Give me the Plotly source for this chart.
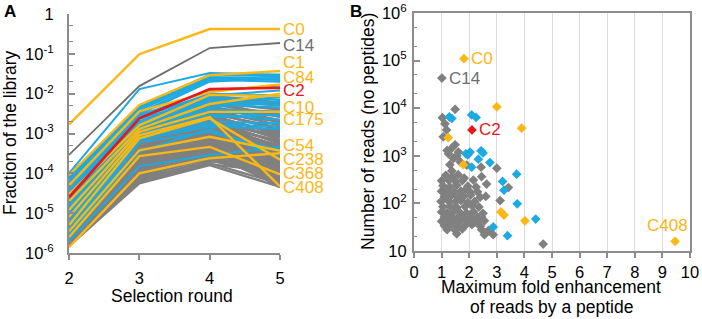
import numpy as np
import plotly.graph_objects as go

W, H = 702, 319
FONT = "Liberation Sans, Arial, Helvetica, sans-serif"
ORANGE = "#FBB714"
BLUE = "#1DAAE2"
GRAY = "#808080"
DGRAY = "#6D6E70"
RED = "#E8161E"

# ---------------- Panel A data ----------------
rounds = [2, 3, 4, 5]

gray_r2 = [9e-5, 7e-5, 5e-5, 4e-5, 3e-5, 2.5e-5, 2e-5, 1.6e-5, 1.3e-5, 1.1e-5, 9e-6, 8e-6, 7e-6, 6e-6, 5e-6,
           4.5e-6, 4e-6, 3.5e-6, 3e-6, 2.7e-6, 2.4e-6, 2.1e-6, 1.9e-6, 1.7e-6, 1.5e-6, 2e-6, 1.8e-6, 1.6e-6,
           1.5e-6, 6e-5, 3.5e-5, 2.2e-5, 1.5e-5, 1.2e-5, 1e-5, 8.5e-6, 6.5e-6, 5.5e-6, 4.2e-6, 3.2e-6, 2.8e-6,
           2.5e-6, 2.3e-6, 2.2e-6, 2e-6, 1.8e-6, 1.6e-6, 1.5e-6, 7.5e-5, 4.5e-5, 2.8e-5, 1.8e-5, 1.4e-5, 1e-5,
           7.5e-6, 5.2e-6, 3.8e-6, 2.6e-6, 2e-6, 1.7e-6, 1e-4, 8e-5,
           6e-6, 4.8e-6, 3.6e-6, 2.9e-6, 2.4e-6, 2.1e-6, 1.9e-6, 1.7e-6, 1.6e-6, 1.55e-6, 3.3e-6, 2.6e-6,
           9.5e-6, 7e-6, 5e-6, 4e-6, 3.1e-6, 2.3e-6]
gray_r3 = [1.5e-3, 1.3e-3, 1.2e-3, 1.1e-3, 1.0e-3, 9e-4, 8e-4, 7e-4, 6.5e-4, 6e-4, 5.5e-4, 5e-4, 4.6e-4, 4.2e-4,
           3.8e-4, 3.5e-4, 3.2e-4, 2.9e-4, 2.6e-4, 2.3e-4, 2e-4, 1.8e-4, 1.5e-4, 1.3e-4, 1.1e-4, 9e-5, 7.5e-5,
           6.5e-5, 5.6e-5, 1.4e-3, 1.15e-3, 8.5e-4, 7.5e-4, 6.2e-4, 5.2e-4, 4.8e-4, 4e-4, 3.6e-4, 3e-4, 2.7e-4,
           2.4e-4, 2.1e-4, 1.9e-4, 1.6e-4, 1.4e-4, 1.2e-4, 1e-4, 8e-5, 1.35e-3, 1.25e-3, 9.5e-4, 8e-4, 7e-4,
           5.8e-4, 4.4e-4, 3.4e-4, 2.8e-4, 2.2e-4, 1.7e-4, 1.4e-4, 2e-3, 1.8e-3,
           4.3e-4, 3.7e-4, 3.1e-4, 2.5e-4, 2e-4, 1.65e-4, 1.35e-4, 1.05e-4, 8.5e-5, 7e-5, 6e-5, 1.25e-4,
           6.8e-4, 5.4e-4, 4.5e-4, 3.3e-4, 2.6e-4, 1.9e-4]
gray_r4 = [7e-3, 6e-3, 5.5e-3, 4.5e-3, 4e-3, 3.5e-3, 3e-3, 2.6e-3, 2.3e-3, 2e-3, 1.8e-3, 1.6e-3, 1.4e-3, 1.25e-3,
           1.1e-3, 1e-3, 9e-4, 8e-4, 7e-4, 6e-4, 5.2e-4, 4.5e-4, 3.8e-4, 3.2e-4, 2.7e-4, 2.3e-4, 2e-4, 1.8e-4,
           1.6e-4, 6.5e-3, 5e-3, 3.2e-3, 2.8e-3, 2.1e-3, 1.9e-3, 1.5e-3, 1.3e-3, 1.15e-3, 9.5e-4, 8.5e-4, 7.5e-4,
           6.5e-4, 5.5e-4, 4.8e-4, 4.2e-4, 3.5e-4, 3e-4, 2.5e-4, 4.2e-3, 3.8e-3, 3.3e-3, 2.4e-3, 2.2e-3, 1.7e-3,
           1.35e-3, 1.05e-3, 8.8e-4, 6.8e-4, 5e-4, 4e-4, 9e-3, 8e-3,
           1.2e-3, 1.0e-3, 8.2e-4, 6.6e-4, 5.4e-4, 4.4e-4, 3.6e-4, 2.9e-4, 2.4e-4, 2.1e-4, 1.7e-4, 3.3e-4,
           1.9e-3, 1.55e-3, 1.25e-3, 9.2e-4, 7.2e-4, 5.8e-4]
gray_r5 = [5e-3, 4e-3, 3e-3, 2.2e-3, 1.6e-3, 1.2e-3, 9e-4, 7e-4, 5.5e-4, 4.5e-4, 3.5e-4, 2.8e-4, 2.2e-4, 1.8e-4,
           1.5e-4, 1.2e-4, 1e-4, 8.5e-5, 7e-5, 6e-5, 5e-5, 4.5e-5, 6.5e-5, 8e-5, 1e-4, 1.3e-4, 1.6e-4, 5.5e-5,
           4.6e-5, 2.6e-3, 1.9e-3, 1.4e-3, 1e-3, 8e-4, 6e-4, 5e-4, 4e-4, 3e-4, 2.5e-4, 2e-4, 1.7e-4, 1.4e-4,
           1.1e-4, 9e-5, 7.5e-5, 6e-5, 5e-5, 9e-5, 3.5e-3, 2.8e-3, 2e-3, 1.1e-3, 8.5e-4, 6.5e-4, 4.5e-4, 3.2e-4,
           2.3e-4, 1.9e-4, 1.5e-4, 1.2e-4, 6e-3, 5.5e-3,
           1.4e-4, 1.15e-4, 9.5e-5, 7.8e-5, 6.3e-5, 5.3e-5, 4.8e-5, 5.8e-5, 7.2e-5, 8.8e-5, 1.05e-4, 1.25e-4,
           4.2e-4, 3.6e-4, 2.7e-4, 2.1e-4, 1.75e-4, 1.35e-4]

blue_r2 = [1e-4, 8e-5, 6e-5, 5e-5, 4e-5, 3e-5, 2.2e-5, 1.8e-5, 1.5e-5, 1.2e-5, 1e-5, 8e-6, 6e-6, 5e-6, 4e-6,
           3.5e-6, 3e-6, 2.5e-6, 2e-6, 7e-5, 3.5e-5, 2.5e-5, 1.3e-5, 9e-6, 4.5e-6, 2.8e-6]
blue_r3 = [1.3e-2, 5e-3, 4.2e-3, 3.8e-3, 3.3e-3, 3e-3, 2.6e-3, 2.3e-3, 2e-3, 1.8e-3, 1.6e-3, 1.4e-3, 1.2e-3,
           1.1e-3, 9e-4, 8e-4, 7e-4, 6e-4, 1.5e-4, 4.6e-3, 2.8e-3, 2.5e-3, 1.9e-3, 1.5e-3, 1e-3, 3.5e-4]
blue_r4 = [0.033, 0.03, 0.026, 0.024, 0.022, 0.02, 9e-3, 8e-3, 7e-3, 6.2e-3, 5.5e-3, 4e-3, 3.5e-3, 3e-3,
           2e-3, 1.7e-3, 1.5e-3, 1.1e-3, 2.9e-4, 0.028, 0.012, 0.01, 6.5e-3, 4.5e-3, 2.5e-3, 1.3e-3]
blue_r5 = [0.03, 0.027, 0.024, 0.022, 0.02, 0.025, 0.012, 7e-3, 6e-3, 5.2e-3, 4.5e-3, 3.5e-3, 2.8e-3, 2.2e-3,
           1.8e-3, 1.5e-3, 1.3e-3, 3.8e-4, 4.6e-4, 0.03, 0.016, 9e-3, 8e-3, 6.5e-3, 3e-3, 2.4e-4]

orange_r2 = [9e-5, 5e-5, 3e-5, 1.2e-5, 5e-6, 3.5e-6, 2.5e-6, 1.4e-6, 2e-5, 8e-6]
orange_r3 = [5.2e-3, 3.6e-3, 1.6e-3, 1.1e-3, 7.6e-4, 3.8e-4, 2.7e-4, 1e-4, 1.3e-3, 9e-4]
orange_r4 = [0.029, 0.011, 9.3e-3, 3.5e-3, 2.4e-3, 8.3e-4, 4.6e-4, 2.4e-4, 5.5e-3, 2.6e-3]
orange_r5 = [0.037, 0.017, 8.7e-3, 3.5e-3, 2.2e-4, 3.7e-4, 9.4e-5, 3.2e-4, 0.01, 4.7e-5]

c0_vals = [1.7e-3, 0.098, 0.42, 0.42]
c14_vals = [2.9e-4, 0.0155, 0.14, 0.187]
c2_vals = [2.5e-5, 2.4e-3, 0.013, 0.014]

label_text = ["C0", "C14", "C1", "C84", "C2", "C10", "C175", "C54", "C238", "C368", "C408"]
label_y = [0.42, 0.166, 0.062, 0.026, 0.0123, 4.6e-3, 2.2e-3, 5.1e-4, 2.2e-4, 9.7e-5, 4.3e-5]
label_col = [ORANGE, DGRAY, ORANGE, ORANGE, RED, ORANGE, ORANGE, ORANGE, ORANGE, ORANGE, ORANGE]

a_ytickvals = [1e-6, 1e-5, 1e-4, 1e-3, 1e-2, 1e-1, 1]
a_yticktext = ["10<sup>-6</sup>", "10<sup>-5</sup>", "10<sup>-4</sup>", "10<sup>-3</sup>",
               "10<sup>-2</sup>", "10<sup>-1</sup>", "1"]

# ---------------- Panel B data ----------------
gray_x = [1.49, 1.03, 1.12, 1.18, 1.06, 1.49, 1.37, 1.61, 1.43, 1.67, 1.37, 1.91, 2.43, 3.0, 2.45, 2.63,
          3.42, 3.12, 2.6, 1.82, 2.15, 2.03, 4.68, 2.87, 2.6, 2.45, 2.35, 1.25, 1.55, 1.3, 1.2,
          1.15, 1.4, 1.6,
          1.0, 1.25, 1.5, 1.75,
          1.05, 1.3, 1.55, 1.95, 2.25,
          1.0, 1.2, 1.45, 1.7, 1.85, 2.3,
          1.1, 1.35, 1.6, 1.8, 2.05, 2.4,
          0.98, 1.25, 1.5, 1.7, 1.95, 2.2,
          1.05, 1.3, 1.55, 1.85, 2.1, 2.35,
          1.0, 1.2, 1.45, 1.65, 1.9, 2.15, 2.5,
          1.1, 1.35, 1.6, 1.8, 2.05, 2.3,
          1.0, 1.25, 1.5, 1.7, 1.95, 2.2, 2.55,
          1.1, 1.35, 1.6, 1.85, 2.1, 2.4,
          1.2, 1.5, 1.75, 2.45, 2.7,
          1.55, 2.55]
gray_y = [9500, 6300, 4700, 3500, 2500, 1700, 1450, 1200, 880, 750, 480, 640, 575, 550, 365, 255,
          215, 115, 140, 340, 310, 175, 14, 22, 24, 52, 41, 1100, 1000, 650, 1300,
          390, 370, 400,
          300, 310, 290, 300,
          235, 225, 240, 230, 220,
          180, 185, 175, 180, 190, 175,
          140, 145, 135, 140, 150, 135,
          110, 112, 108, 115, 105, 110,
          85, 88, 82, 86, 90, 84,
          66, 64, 68, 65, 63, 67, 62,
          52, 53, 51, 54, 50, 52,
          42, 43, 41, 44, 42, 40, 43,
          34, 35, 33, 34, 36, 33,
          28, 27, 29, 28, 27,
          23, 22]

blue_x = [1.37, 1.28, 2.09, 2.25, 1.88, 2.03, 2.43, 2.33, 2.75, 2.09, 3.21, 3.26, 3.72, 3.74, 4.41, 2.87,
          3.39, 1.95, 2.5]
blue_y = [6100, 6600, 7200, 6400, 1100, 1200, 1270, 850, 720, 575, 290, 190, 410, 98, 47, 32,
          21, 1050, 1150]

orange_x = [1.81, 3.0, 3.9, 1.24, 1.79, 3.15, 3.26, 4.02, 9.46]
orange_y = [110000, 10700, 3800, 2400, 650, 66, 57, 43, 16]

c14_xy = (1.01, 43000)
c2_xy = (2.1, 3500)

b_ytickvals = [10, 100, 1000, 1e4, 1e5, 1e6]
b_yticktext = ["10", "10<sup>2</sup>", "10<sup>3</sup>", "10<sup>4</sup>", "10<sup>5</sup>", "10<sup>6</sup>"]
b_xtickvals = list(range(0, 11))

# ---------------- Figure ----------------
fig = go.Figure()

def line_group(r2, r3, r4, r5, color, width):
    for vals in zip(r2, r3, r4, r5):
        fig.add_trace(go.Scatter(x=rounds, y=list(vals), mode="lines",
                                 line=dict(color=color, width=width),
                                 xaxis="x", yaxis="y", showlegend=False, hoverinfo="skip"))

line_group(gray_r2, gray_r3, gray_r4, gray_r5, GRAY, 2.4)
line_group(blue_r2, blue_r3, blue_r4, blue_r5, BLUE, 2)
line_group(orange_r2, orange_r3, orange_r4, orange_r5, ORANGE, 2.4)
fig.add_trace(go.Scatter(x=rounds, y=c2_vals, mode="lines", line=dict(color=RED, width=2.6),
                         xaxis="x", yaxis="y", showlegend=False))
fig.add_trace(go.Scatter(x=rounds, y=c14_vals, mode="lines", line=dict(color=DGRAY, width=1.8),
                         xaxis="x", yaxis="y", showlegend=False))
fig.add_trace(go.Scatter(x=rounds, y=c0_vals, mode="lines", line=dict(color=ORANGE, width=2.4),
                         xaxis="x", yaxis="y", showlegend=False))

def pts(xs, ys, color):
    fig.add_trace(go.Scatter(x=xs, y=ys, mode="markers",
                             marker=dict(symbol="diamond", size=7.5, color=color, line=dict(width=0)),
                             xaxis="x2", yaxis="y2", showlegend=False))

pts(gray_x, gray_y, GRAY)
pts([c14_xy[0]], [c14_xy[1]], GRAY)
pts(blue_x, blue_y, BLUE)
pts(orange_x, orange_y, ORANGE)
pts([c2_xy[0]], [c2_xy[1]], RED)

LBL = 17
ann = []
for t, yv, c in zip(label_text, label_y, label_col):
    ann.append(dict(x=5, y=np.log10(yv), xref="x", yref="y", text=t, showarrow=False,
                    xanchor="left", yanchor="middle", xshift=1, font=dict(size=LBL, color=c)))

# panel B point labels
ann.append(dict(x=orange_x[0], y=np.log10(orange_y[0]), xref="x2", yref="y2", text="C0", showarrow=False,
                xanchor="left", xshift=5, font=dict(size=LBL, color=ORANGE)))
ann.append(dict(x=c14_xy[0], y=np.log10(c14_xy[1]), xref="x2", yref="y2", text="C14", showarrow=False,
                xanchor="left", xshift=5, font=dict(size=LBL, color=DGRAY)))
ann.append(dict(x=c2_xy[0], y=np.log10(c2_xy[1]), xref="x2", yref="y2", text="C2", showarrow=False,
                xanchor="left", xshift=5, font=dict(size=LBL, color=RED)))
ann.append(dict(x=orange_x[-1], y=np.log10(orange_y[-1]), xref="x2", yref="y2", text="C408", showarrow=False,
                xanchor="center", yanchor="bottom", yshift=4, xshift=-8, font=dict(size=LBL, color=ORANGE)))

TT = 17.5
def pann(px, py, text, **kw):
    d = dict(x=px / W, y=1 - py / H, xref="paper", yref="paper", text=text, showarrow=False,
             xanchor="center", yanchor="middle", font=dict(size=TT, color="black"))
    d.update(kw)
    ann.append(d)

pann(10, 12, "<b>A</b>", font=dict(size=17, color="black"))
pann(356, 12, "<b>B</b>", font=dict(size=17, color="black"))
pann(10, 133, "Fraction of the library", textangle=-90)
pann(172, 296, "Selection round")
pann(368, 132, "Number of reads (no peptides)", textangle=-90)
pann(551, 287, "Maximum fold enhancement")
pann(551, 307, "of reads by a peptide")

AX = "#8C8C8C"
TK = 16.5
fig.update_layout(
    width=W, height=H, margin=dict(l=0, r=0, t=0, b=0),
    paper_bgcolor="white", plot_bgcolor="white",
    font=dict(family=FONT, size=16, color="black"),
    showlegend=False,
    xaxis=dict(domain=[69 / W, 280 / W], range=[2, 5], tickvals=rounds, showline=True, linecolor=AX,
               linewidth=2, ticks="outside", ticklen=5, tickwidth=2, tickcolor=AX, showgrid=False,
               zeroline=False, anchor="y", automargin=False, ticklabelstandoff=4,
               tickfont=dict(size=TK)),
    yaxis=dict(domain=[1 - 253 / H, 1 - 14 / H], type="log", range=[-6, 0], tickvals=a_ytickvals,
               ticktext=a_yticktext, showline=True, linecolor=AX, linewidth=2, ticks="inside",
               ticklen=6, tickwidth=2, tickcolor=AX, showgrid=False, zeroline=False, anchor="x",
               automargin=False, ticklabelstandoff=10, tickfont=dict(size=TK),
               minor=dict(ticks="inside", ticklen=4, tickwidth=1, tickcolor=AX, showgrid=False)),
    xaxis2=dict(domain=[414 / W, 690 / W], range=[0, 10], tickvals=b_xtickvals, showline=True, mirror=True,
                linecolor=AX, linewidth=2, ticks="outside", ticklen=5, tickwidth=1.5, tickcolor=AX,
                showgrid=True, gridcolor="#DCDCDC", gridwidth=1, zeroline=False, anchor="y2",
                automargin=False, tickfont=dict(size=TK)),
    yaxis2=dict(domain=[1 - 251 / H, 1 - 13 / H], type="log", range=[1, 6], tickvals=b_ytickvals,
                ticktext=b_yticktext, showline=True, mirror=True, linecolor=AX, linewidth=2,
                ticks="inside", ticklen=6, tickwidth=1.5, tickcolor=AX, showgrid=False, zeroline=False,
                anchor="x2", automargin=False, ticklabelstandoff=2, tickfont=dict(size=TK),
                minor=dict(ticks="inside", ticklen=3, tickwidth=1, tickcolor=AX, showgrid=False)),
    annotations=ann,
)

fig.write_html("out.html", config={"displayModeBar": False},
               post_script="document.body.style.margin='0';document.body.style.padding='0';")
